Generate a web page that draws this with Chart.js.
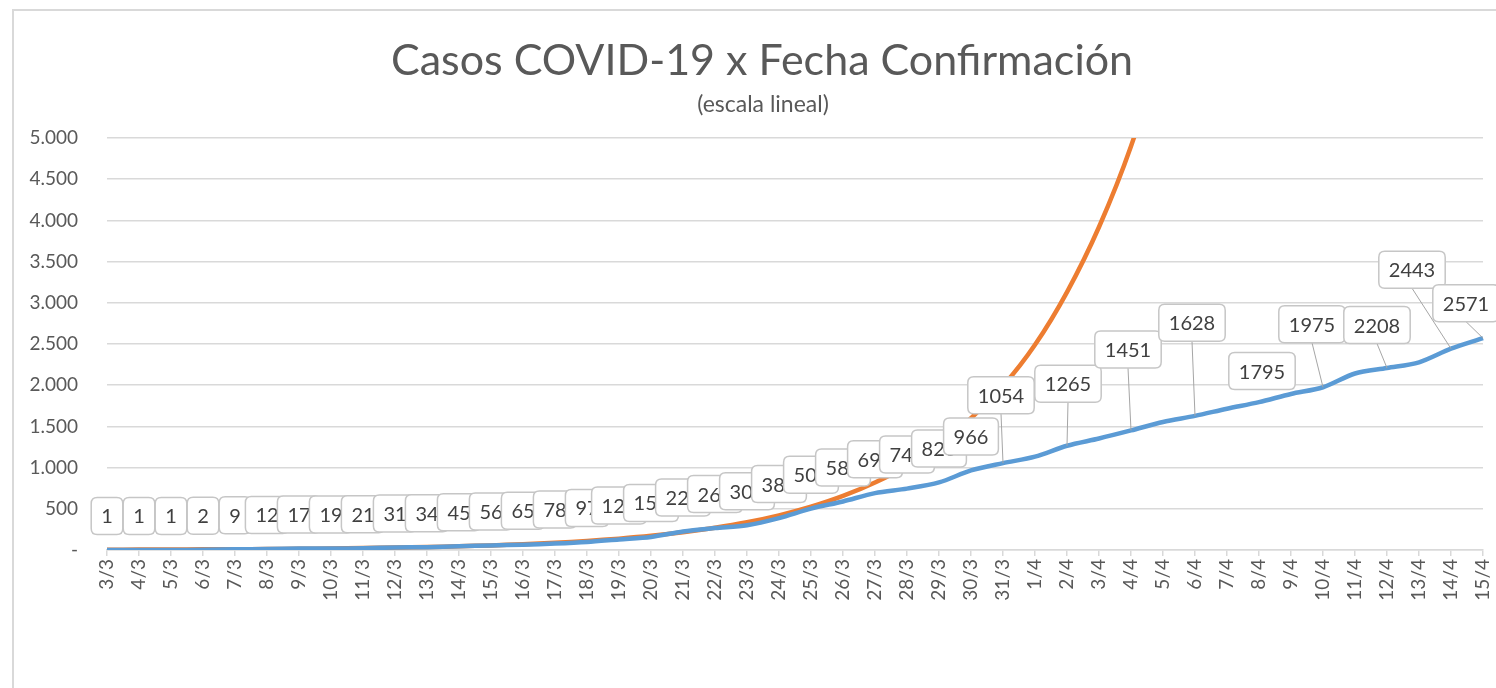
<!DOCTYPE html>
<html>
<head>
<meta charset="utf-8">
<script src="https://cdn.jsdelivr.net/npm/chart.js@4"></script>
<style>
  body { margin: 0; background: #fff; }
  canvas { display: block; }
</style>
</head>
<body>
<canvas id="myChart" width="1496" height="688"></canvas>
<script>
// fechas de confirmacion
var fechas = ['3/3','4/3','5/3','6/3','7/3','8/3','9/3','10/3','11/3','12/3','13/3','14/3','15/3','16/3','17/3',
  '18/3','19/3','20/3','21/3','22/3','23/3','24/3','25/3','26/3','27/3','28/3','29/3','30/3','31/3',
  '1/4','2/4','3/4','4/4','5/4','6/4','7/4','8/4','9/4','10/4','11/4','12/4','13/4','14/4','15/4'];

// casos acumulados (azul)
var casos = [1, 1, 1, 2, 9, 12, 17, 19, 21, 31, 34, 45, 56, 65, 78,
  97, 128, 158, 225, 266, 301, 387, 502, 589, 690, 745, 820, 966, 1054,
  1133, 1265, 1353, 1451, 1554, 1628, 1715, 1795, 1894, 1975, 2142, 2208, 2277, 2443, 2571];

// tendencia exponencial (naranja)
var tendencia = [4, 5, 6, 8, 9, 12, 15, 18, 23, 29, 36, 45, 56, 70, 88,
  110, 138, 172, 215, 269, 336, 420, 525, 656, 820, 1020, 1280, 1600, 1990,
  2490, 3130, 3920, 4900, 6150];

var yTicks = [0, 500, 1000, 1500, 2000, 2500, 3000, 3500, 4000, 4500, 5000];

// fechas sin etiqueta
var sinEtiqueta = ['1/4','3/4','5/4','7/4','9/4','11/4','13/4'];

// etiquetas desplazadas (con linea guia)
var etiquetasMovidas = {
  '31/3': { dx: -2, dy: -68, guia: true },
  '2/4':  { dx: 1,  dy: -62, guia: true },
  '4/4':  { dx: -3, dy: -81, guia: true },
  '6/4':  { dx: -3, dy: -93, guia: true },
  '8/4':  { dx: 3,  dy: -31, guia: false },
  '10/4': { dx: -11, dy: -63, guia: true },
  '12/4': { dx: -10, dy: -43, guia: true },
  '14/4': { dx: -39, dy: -79, guia: true },
  '15/4': { dx: -17, dy: -35, guia: true }
};

var gris = '#595959';

function formatoMiles(v) {
  if (v === 0) return '-';
  return v.toString().replace(/\B(?=(\d{3})+(?!\d))/g, '.');
}

function cajaRedonda(ctx, x, y, w, h, r) {
  ctx.beginPath();
  ctx.moveTo(x + r, y);
  ctx.lineTo(x + w - r, y);
  ctx.quadraticCurveTo(x + w, y, x + w, y + r);
  ctx.lineTo(x + w, y + h - r);
  ctx.quadraticCurveTo(x + w, y + h, x + w - r, y + h);
  ctx.lineTo(x + r, y + h);
  ctx.quadraticCurveTo(x, y + h, x, y + h - r);
  ctx.lineTo(x, y + r);
  ctx.quadraticCurveTo(x, y, x + r, y);
  ctx.closePath();
}

var marcoYTitulo = {
  id: 'marcoYTitulo',
  beforeDraw(chart) {
    var c = chart.ctx;
    c.save();
    c.fillStyle = '#fff';
    c.fillRect(0, 0, chart.width, chart.height);
    c.strokeStyle = '#d9d9d9';
    c.lineWidth = 2;
    c.strokeRect(13, 10, chart.width + 10, chart.height + 10);
    c.fillStyle = gris;
    c.textAlign = 'center';
    c.textBaseline = 'middle';
    c.font = '43px Lato';
    c.fillText('Casos COVID-19 x Fecha Confirmación', 762, 61);
    c.font = '23px Lato';
    c.fillText('(escala lineal)', 763, 105);
    c.restore();
  }
};

var etiquetas = {
  id: 'etiquetas',
  afterDatasetsDraw(chart) {
    var c = chart.ctx;
    var meta = chart.getDatasetMeta(0);
    c.save();
    c.font = '20px Lato';
    c.textAlign = 'center';
    c.textBaseline = 'middle';
    for (var i = 0; i < casos.length; i++) {
      var fecha = fechas[i];
      if (sinEtiqueta.indexOf(fecha) >= 0) continue;
      var p = meta.data[i];
      var mov = etiquetasMovidas[fecha] || { dx: 0, dy: -34, guia: false };
      var texto = String(casos[i]);
      var w = c.measureText(texto).width + 20;
      var h = 37;
      var cx = p.x + mov.dx, cy = p.y + mov.dy;
      if (mov.guia) {
        c.strokeStyle = '#a6a6a6';
        c.lineWidth = 1;
        c.beginPath();
        c.moveTo(cx, cy + h / 2);
        c.lineTo(p.x, p.y);
        c.stroke();
      }
      cajaRedonda(c, cx - w / 2, cy - h / 2, w, h, 6);
      c.fillStyle = '#fff';
      c.fill();
      c.strokeStyle = '#c6c6c6';
      c.lineWidth = 1.5;
      c.stroke();
      c.fillStyle = '#404040';
      c.fillText(texto, cx, cy + 1);
    }
    c.restore();
  }
};

var ctx = document.getElementById('myChart');
var myChart = new Chart(ctx, {
  type: 'line',
  data: {
    labels: fechas,
    datasets: [
      {
        label: 'Casos',
        data: casos,
        borderColor: '#5b9bd5',
        backgroundColor: '#5b9bd5',
        borderWidth: 4.5,
        pointRadius: 0,
        tension: 0.3
      },
      {
        label: 'Tendencia',
        data: tendencia,
        borderColor: '#ed7d31',
        backgroundColor: '#ed7d31',
        borderWidth: 4.5,
        pointRadius: 0,
        tension: 0.4
      }
    ]
  },
  options: {
    responsive: false,
    animation: false,
    layout: { padding: { top: 138, right: 13, left: 0, bottom: 0 } },
    plugins: {
      legend: { display: false },
      tooltip: { enabled: false }
    },
    scales: {
      x: {
        offset: false,
        grid: { drawOnChartArea: false, drawTicks: true, tickLength: 6, color: '#d9d9d9', lineWidth: 1.5 },
        border: { color: '#d9d9d9', width: 1.5 },
        ticks: {
          autoSkip: false,
          maxRotation: 90,
          minRotation: 90,
          padding: 3,
          color: gris,
          font: { family: 'Lato', size: 19 }
        },
        afterFit: function (axis) {
          axis.height = 138;
          axis.paddingLeft = 0;
          axis.paddingRight = 0;
        }
      },
      y: {
        min: 0,
        max: 5000,
        afterBuildTicks: function (axis) { axis.ticks = yTicks.map(function (v) { return { value: v }; }); },
        grid: { drawTicks: false, color: '#d9d9d9', lineWidth: 1.5 },
        border: { display: false },
        ticks: {
          padding: 29,
          color: gris,
          font: { family: 'Lato', size: 19 },
          callback: function (v) { return formatoMiles(v); }
        },
        afterFit: function (axis) { axis.width = 107; }
      }
    }
  },
  plugins: [marcoYTitulo, etiquetas]
});
</script>
</body>
</html>
